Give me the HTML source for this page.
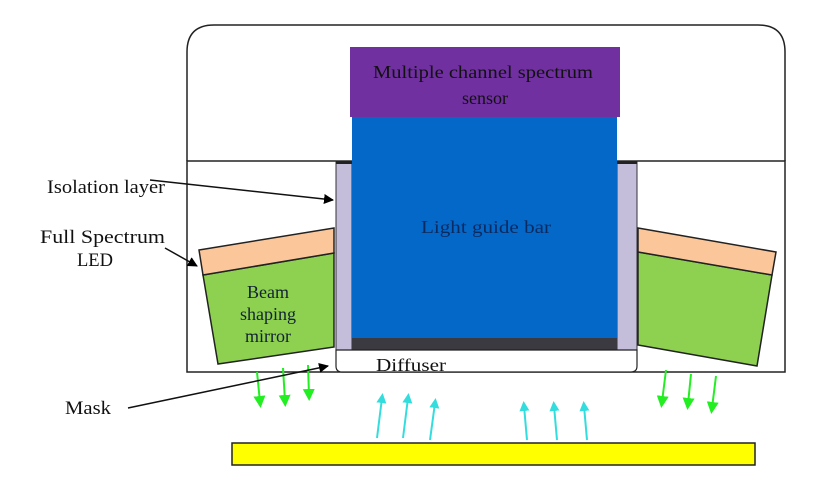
<!DOCTYPE html>
<html><head><style>body{margin:0;background:#fff}svg{display:block}</style></head><body>
<svg width="822" height="500" viewBox="0 0 822 500" xmlns="http://www.w3.org/2000/svg" font-family="Liberation Serif, serif">
<defs>
<marker id="ab" markerWidth="10" markerHeight="10" refX="9" refY="5" orient="auto" markerUnits="userSpaceOnUse"><path d="M0,0 L10,5 L0,10z" fill="#000"/></marker>
<marker id="ag" viewBox="0 0 10 10" markerWidth="12" markerHeight="14" refX="5" refY="5" orient="auto" markerUnits="userSpaceOnUse"><path d="M0,0 L10,5 L0,10z" fill="#22ee22"/></marker>
<marker id="ac" viewBox="0 0 10 10" markerWidth="10" markerHeight="12" refX="5" refY="5" orient="auto" markerUnits="userSpaceOnUse"><path d="M0,0 L10,5 L0,10z" fill="#33dddd"/></marker>
</defs>
<path d="M187,161 L187,52 Q187,25 214,25 L758,25 Q785,25 785,52 L785,161" fill="none" stroke="#222" stroke-width="1.5"/>
<rect x="187" y="161" width="598" height="211" fill="none" stroke="#222" stroke-width="1.5"/>
<rect x="336" y="161" width="16" height="189" fill="#c4bedb" stroke="#333" stroke-width="1"/>
<rect x="617" y="161" width="20" height="189" fill="#c4bedb" stroke="#333" stroke-width="1"/>
<rect x="336" y="161" width="16" height="3" fill="#222"/>
<rect x="617" y="161" width="20" height="3" fill="#222"/>
<rect x="350" y="47" width="270" height="70" fill="#7030a0"/>
<text x="373" y="78" font-size="18" fill="#111" textLength="220" lengthAdjust="spacingAndGlyphs">Multiple channel spectrum</text>
<text x="485" y="104" text-anchor="middle" font-size="18" fill="#111">sensor</text>
<rect x="352" y="117" width="265" height="221" fill="#0468c8"/>
<text x="421" y="233" font-size="18" fill="#0a2a60" textLength="130" lengthAdjust="spacingAndGlyphs">Light guide bar</text>
<rect x="352" y="338" width="265" height="12" fill="#3a3a40"/>
<path d="M336,350 L637,350 L637,366 Q637,372 631,372 L342,372 Q336,372 336,366 Z" fill="#fff" stroke="#222" stroke-width="1.2"/>
<text x="376" y="371" font-size="18" fill="#111" textLength="70" lengthAdjust="spacingAndGlyphs">Diffuser</text>
<polygon points="203,275 334,253 334,347 218,364" fill="#8ed050" stroke="#222" stroke-width="1.5"/>
<polygon points="199,250 334,228 334,253 203,275" fill="#fbc79a" stroke="#222" stroke-width="1.5"/>
<text x="268" y="298" text-anchor="middle" font-size="18" fill="#123">Beam</text>
<text x="268" y="320" text-anchor="middle" font-size="18" fill="#123">shaping</text>
<text x="268" y="342" text-anchor="middle" font-size="18" fill="#123">mirror</text>
<polygon points="638,252 772,275 757,366 638,345" fill="#8ed050" stroke="#222" stroke-width="1.5"/>
<polygon points="638,228 776,252 772,275 638,252" fill="#fbc79a" stroke="#222" stroke-width="1.5"/>
<rect x="232" y="443" width="523" height="22" fill="#ffff00" stroke="#222" stroke-width="1.5"/>
<g stroke="#22ee22" stroke-width="2" marker-end="url(#ag)">
<line x1="257" y1="372" x2="260" y2="402"/><line x1="283" y1="368" x2="285" y2="401"/><line x1="308" y1="365" x2="309" y2="395"/>
<line x1="666" y1="370" x2="662" y2="402"/><line x1="691" y1="374" x2="688" y2="404"/><line x1="716" y1="376" x2="712" y2="408"/>
</g>
<g stroke="#33dddd" stroke-width="2" marker-end="url(#ac)">
<line x1="377" y1="438" x2="382" y2="398"/><line x1="403" y1="438" x2="408" y2="398"/><line x1="430" y1="440" x2="435" y2="403"/>
<line x1="527" y1="440" x2="524" y2="406"/><line x1="557" y1="440" x2="554" y2="406"/><line x1="587" y1="440" x2="584" y2="406"/>
</g>
<g font-size="19" fill="#111">
<text x="47" y="193" textLength="118" lengthAdjust="spacingAndGlyphs">Isolation layer</text>
<text x="40" y="243" textLength="125" lengthAdjust="spacingAndGlyphs">Full Spectrum</text>
<text x="77" y="266" textLength="36" lengthAdjust="spacingAndGlyphs">LED</text>
<text x="65" y="414" textLength="46" lengthAdjust="spacingAndGlyphs">Mask</text>
</g>
<g stroke="#111" stroke-width="1.5" marker-end="url(#ab)">
<line x1="150" y1="180" x2="333" y2="200"/>
<line x1="165" y1="248" x2="197" y2="266"/>
<line x1="128" y1="408" x2="328" y2="366"/>
</g>
</svg>
</body></html>
